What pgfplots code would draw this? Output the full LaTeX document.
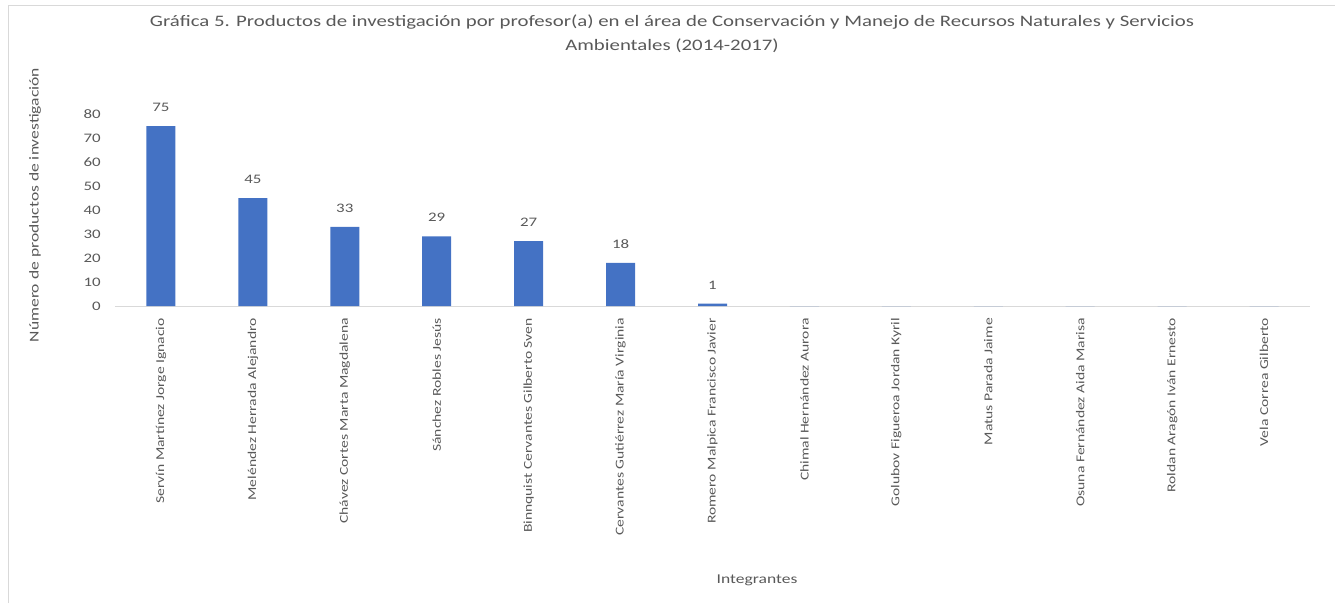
\documentclass[border=0pt]{standalone}
\usepackage{fontspec}
\setmainfont[FakeStretch=1.3]{Carlito}
\usepackage{pgfplots}
\pgfplotsset{compat=1.18}
\definecolor{barblue}{RGB}{68,114,196}
\definecolor{txtgray}{RGB}{89,89,89}
\definecolor{axgray}{RGB}{217,217,217}
\begin{document}
\begin{tikzpicture}[x=1pt,y=1pt]
\useasboundingbox (-115,-297) rectangle (1220,306);
\draw[axgray] (-106.5,-297) -- (-106.5,300.5) -- (1220,300.5);
\begin{axis}[scale only axis,
  width=1195pt, height=192pt,
  xmin=-0.5, xmax=12.5, ymin=0, ymax=80,
  ytick={0,10,...,80},
  xtick={0,...,12},
  xticklabels={Servín Martínez Jorge Ignacio, Meléndez Herrada Alejandro, Chávez Cortes Marta Magdalena, Sánchez Robles Jesús, Binnquist Cervantes Gilberto Sven, Cervantes Gutiérrez María Virginia, Romero Malpica Francisco Javier, Chimal Hernández Aurora, Golubov Figueroa Jordan Kyril, Matus Parada Jaime, Osuna Fernández Aida Marisa, Roldan Aragón Iván Ernesto, Vela Correa Gilberto},
  axis lines*=left,
  x axis line style={draw=axgray, line width=0.8pt},
  y axis line style={draw=none},
  major tick length=0pt,
  /pgf/number format/assume math mode=true,
  x tick label style={yshift=-12pt, rotate=90, anchor=east, inner sep=0pt, font=\fontsize{12}{14}\selectfont, text=txtgray},
  y tick label style={anchor=east, inner sep=0pt, xshift=-14pt, font=\fontsize{13}{15}\selectfont, text=txtgray},
  ybar, bar width=29pt, bar shift=0pt,
  nodes near coords,
  every node near coord/.append style={font=\fontsize{13}{15}\selectfont, text=txtgray, yshift=11pt},
  clip=false,
]
\addplot[fill=barblue, draw=none] coordinates {(0,75) (1,45) (2,33) (3,29) (4,27) (5,18) (6,1)};
\addplot[fill=barblue, draw=none, nodes near coords={}] coordinates {(7,0) (8,0) (9,0) (10,0) (11,0) (12,0)};
\end{axis}
\node[text=txtgray, font=\fontsize{16}{19}\selectfont] at (557,284) {Gráfica 5. Productos de  investigación por profesor(a) en el área de Conservación y Manejo de Recursos Naturales y Servicios};
\node[text=txtgray, font=\fontsize{16}{19}\selectfont] at (557,260) {Ambientales (2014-2017)};
\node[text=txtgray, rotate=90, font=\fontsize{13.5}{15}\selectfont] at (-80,101) {Número de productos de investigación};
\node[text=txtgray, font=\fontsize{13.5}{15}\selectfont] at (642,-274) {Integrantes};
\end{tikzpicture}
\end{document}
